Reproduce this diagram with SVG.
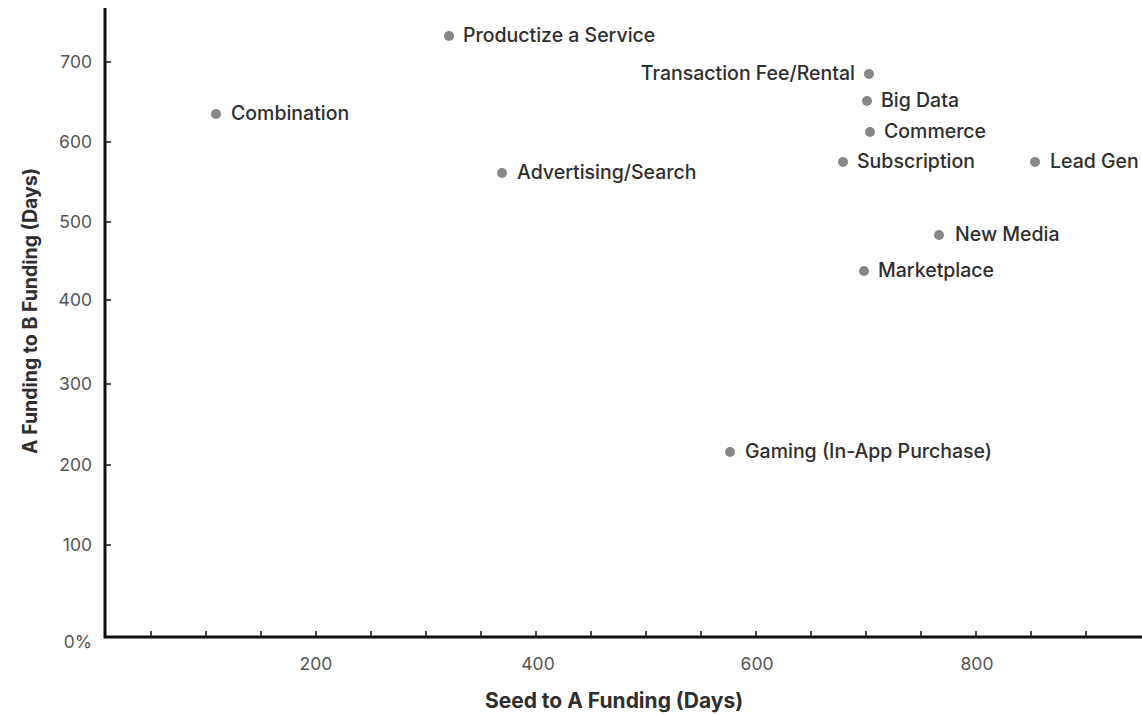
<svg xmlns="http://www.w3.org/2000/svg" width="1142" height="715" viewBox="0 0 1142 715">
<style>
.lbl{font-family:Inter,"Liberation Sans",sans-serif;font-weight:500;font-size:19.5px;fill:#2e2e2e}
.tick{font-family:Inter,"Liberation Sans",sans-serif;font-size:17.5px;fill:#555}
.title{font-family:Inter,"Liberation Sans",sans-serif;font-weight:700;fill:#2e2e2e}
.dot{fill:#888}
.axis{stroke:#111;stroke-width:3;fill:none}
.tk{stroke:#111;stroke-width:1.5}
</style>
<rect width="1142" height="715" fill="#fff"/>
<g id="axes">
<path class="axis" d="M105 8 V637 H1142"/>
<g class="tk">
<line x1="105" y1="62" x2="111" y2="62"/><line x1="105" y1="142" x2="111" y2="142"/><line x1="105" y1="222" x2="111" y2="222"/><line x1="105" y1="300" x2="111" y2="300"/><line x1="105" y1="384" x2="111" y2="384"/><line x1="105" y1="465" x2="111" y2="465"/><line x1="105" y1="545" x2="111" y2="545"/>
<line x1="151" y1="637" x2="151" y2="631"/><line x1="206" y1="637" x2="206" y2="631"/><line x1="261" y1="637" x2="261" y2="631"/><line x1="316" y1="637" x2="316" y2="631"/><line x1="371" y1="637" x2="371" y2="631"/><line x1="426" y1="637" x2="426" y2="631"/><line x1="481" y1="637" x2="481" y2="631"/><line x1="536" y1="637" x2="536" y2="631"/><line x1="591" y1="637" x2="591" y2="631"/><line x1="646" y1="637" x2="646" y2="631"/><line x1="701" y1="637" x2="701" y2="631"/><line x1="756" y1="637" x2="756" y2="631"/><line x1="811" y1="637" x2="811" y2="631"/><line x1="866" y1="637" x2="866" y2="631"/><line x1="921" y1="637" x2="921" y2="631"/><line x1="976" y1="637" x2="976" y2="631"/><line x1="1031" y1="637" x2="1031" y2="631"/><line x1="1086" y1="637" x2="1086" y2="631"/>
</g>
<g class="tick" text-anchor="end">
<text x="92" y="68">700</text><text x="92" y="148">600</text><text x="92" y="228">500</text><text x="92" y="306">400</text><text x="92" y="390">300</text><text x="92" y="471">200</text><text x="92" y="551">100</text><text x="92" y="648">0%</text>
</g>
<g class="tick" text-anchor="middle">
<text x="316" y="670">200</text><text x="538" y="670">400</text><text x="757" y="670">600</text><text x="977" y="670">800</text>
</g>
<text class="title" x="614" y="708" font-size="21" text-anchor="middle">Seed to A Funding (Days)</text>
<text class="title" transform="translate(37 311) rotate(-90)" font-size="19.5" text-anchor="middle">A Funding to B Funding (Days)</text>
</g>
<g id="connectors"></g>
<g id="productize"><circle class="dot" cx="449" cy="36" r="5"/><text class="lbl" x="463" y="42">Productize a Service</text></g>
<g id="transaction"><circle class="dot" cx="869" cy="74" r="5"/><text class="lbl" x="855" y="80" text-anchor="end">Transaction Fee/Rental</text></g>
<g id="bigdata"><circle class="dot" cx="867" cy="101" r="5"/><text class="lbl" x="881" y="107">Big Data</text></g>
<g id="combination"><circle class="dot" cx="216" cy="114" r="5"/><text class="lbl" x="231" y="120">Combination</text></g>
<g id="commerce"><circle class="dot" cx="870" cy="132" r="5"/><text class="lbl" x="884" y="138">Commerce</text></g>
<g id="subscription"><circle class="dot" cx="843" cy="162" r="5"/><text class="lbl" x="857" y="168">Subscription</text></g>
<g id="leadgen"><circle class="dot" cx="1035" cy="162" r="5"/><text class="lbl" x="1050" y="168">Lead Gen</text></g>
<g id="advertising"><circle class="dot" cx="502" cy="173" r="5"/><text class="lbl" x="517" y="179">Advertising/Search</text></g>
<g id="newmedia"><circle class="dot" cx="939" cy="235" r="5"/><text class="lbl" x="955" y="241">New Media</text></g>
<g id="marketplace"><circle class="dot" cx="864" cy="271" r="5"/><text class="lbl" x="878" y="277">Marketplace</text></g>
<g id="gaming"><circle class="dot" cx="730" cy="452" r="5"/><text class="lbl" x="745" y="458">Gaming (In-App Purchase)</text></g>
</svg>
